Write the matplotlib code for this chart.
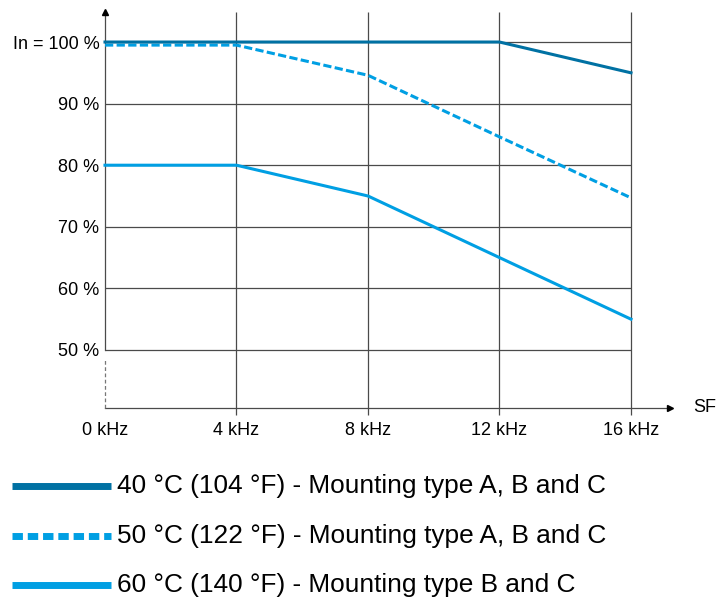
import matplotlib
matplotlib.use("Agg")
import matplotlib.pyplot as plt
from matplotlib.lines import Line2D

plt.rcParams['font.family'] = ['Liberation Sans', 'DejaVu Sans']

freq = [0, 4, 8, 12, 16]
freq_labels = ["0 kHz", "4 kHz", "8 kHz", "12 kHz", "16 kHz"]
s40 = [100, 100, 100, 100, 95]
s50 = [99.5, 99.5, 94.6, 84.6, 74.7]
s60 = [80, 80, 75, 65, 55]
y_ticks = [50, 60, 70, 80, 90, 100]
y_labels = ["50 %", "60 %", "70 %", "80 %", "90 %", "In = 100 %"]
legend_labels = ["40 °C (104 °F) - Mounting type A, B and C",
                 "50 °C (122 °F) - Mounting type A, B and C",
                 "60 °C (140 °F) - Mounting type B and C"]

c_dark = "#0071a3"
c_light = "#009fe3"
grid_c = "#4a4a4a"

fig = plt.figure(figsize=(7.17, 6.01), dpi=100)
ax = fig.add_axes([105/717, 1-408/601, (678-105)/717, (408-10)/601])
xmin, xmax = 0, 17.43
ymin, ymax = 40.58, 105.2
ax.set_xlim(xmin, xmax)
ax.set_ylim(ymin, ymax)
for s in ax.spines.values():
    s.set_visible(False)

# grid
ax.hlines(y_ticks, 0, 16, colors=grid_c, lw=0.9, zorder=1)
ax.vlines(freq[1:], ymin - 1.1, 104.9, colors=grid_c, lw=0.9, zorder=1, clip_on=False)
# axes
ax.plot([0, 17.2], [ymin, ymin], color=grid_c, lw=0.9, clip_on=False, zorder=1)
ax.plot([17.2], [ymin], marker=">", color="black", ms=5, clip_on=False)
ax.plot([0, 0], [50, 104.6], color=grid_c, lw=0.9, clip_on=False, zorder=1)
ax.plot([0, 0], [ymin, 48.6], color="#777777", lw=0.9, ls=(0, (3, 2)), clip_on=False, zorder=1)
ax.plot([0], [104.8], marker="^", color="black", ms=5, clip_on=False)

# series
ax.plot(freq, s60, color=c_light, lw=2.2, zorder=3, clip_on=False)
ax.plot(freq, s50, color=c_light, lw=2.2, ls=(0, (2.7, 1.1)), dash_capstyle="butt", zorder=3, clip_on=False)
ax.plot(freq, s40, color=c_dark, lw=2.2, zorder=4, clip_on=False)

ax.set_xticks(freq)
ax.set_xticklabels(freq_labels, fontsize=13)
ax.set_yticks(y_ticks)
ax.set_yticklabels(y_labels, fontsize=13)
ax.tick_params(length=0, pad=4)
ax.tick_params(axis='x', pad=10)
fig.text(705/717, 1-408/601, "SF", fontsize=13, ha="center", va="center")

# legend
ys = [486, 536, 585]
styles = [dict(color=c_dark, ls="-"),
          dict(color=c_light, ls=(0, (1.5, 0.7))),
          dict(color=c_light, ls="-")]
for y, st, lab in zip(ys, styles, legend_labels):
    fy = 1 - y/601
    fig.add_artist(Line2D([12/717, 111/717], [fy, fy], lw=5, solid_capstyle="butt",
                          dash_capstyle="butt", transform=fig.transFigure, **st))
    fig.text(117/717, fy, lab, fontsize=18.9, ha="left", va="center")

fig.savefig("out.png", dpi=100)
